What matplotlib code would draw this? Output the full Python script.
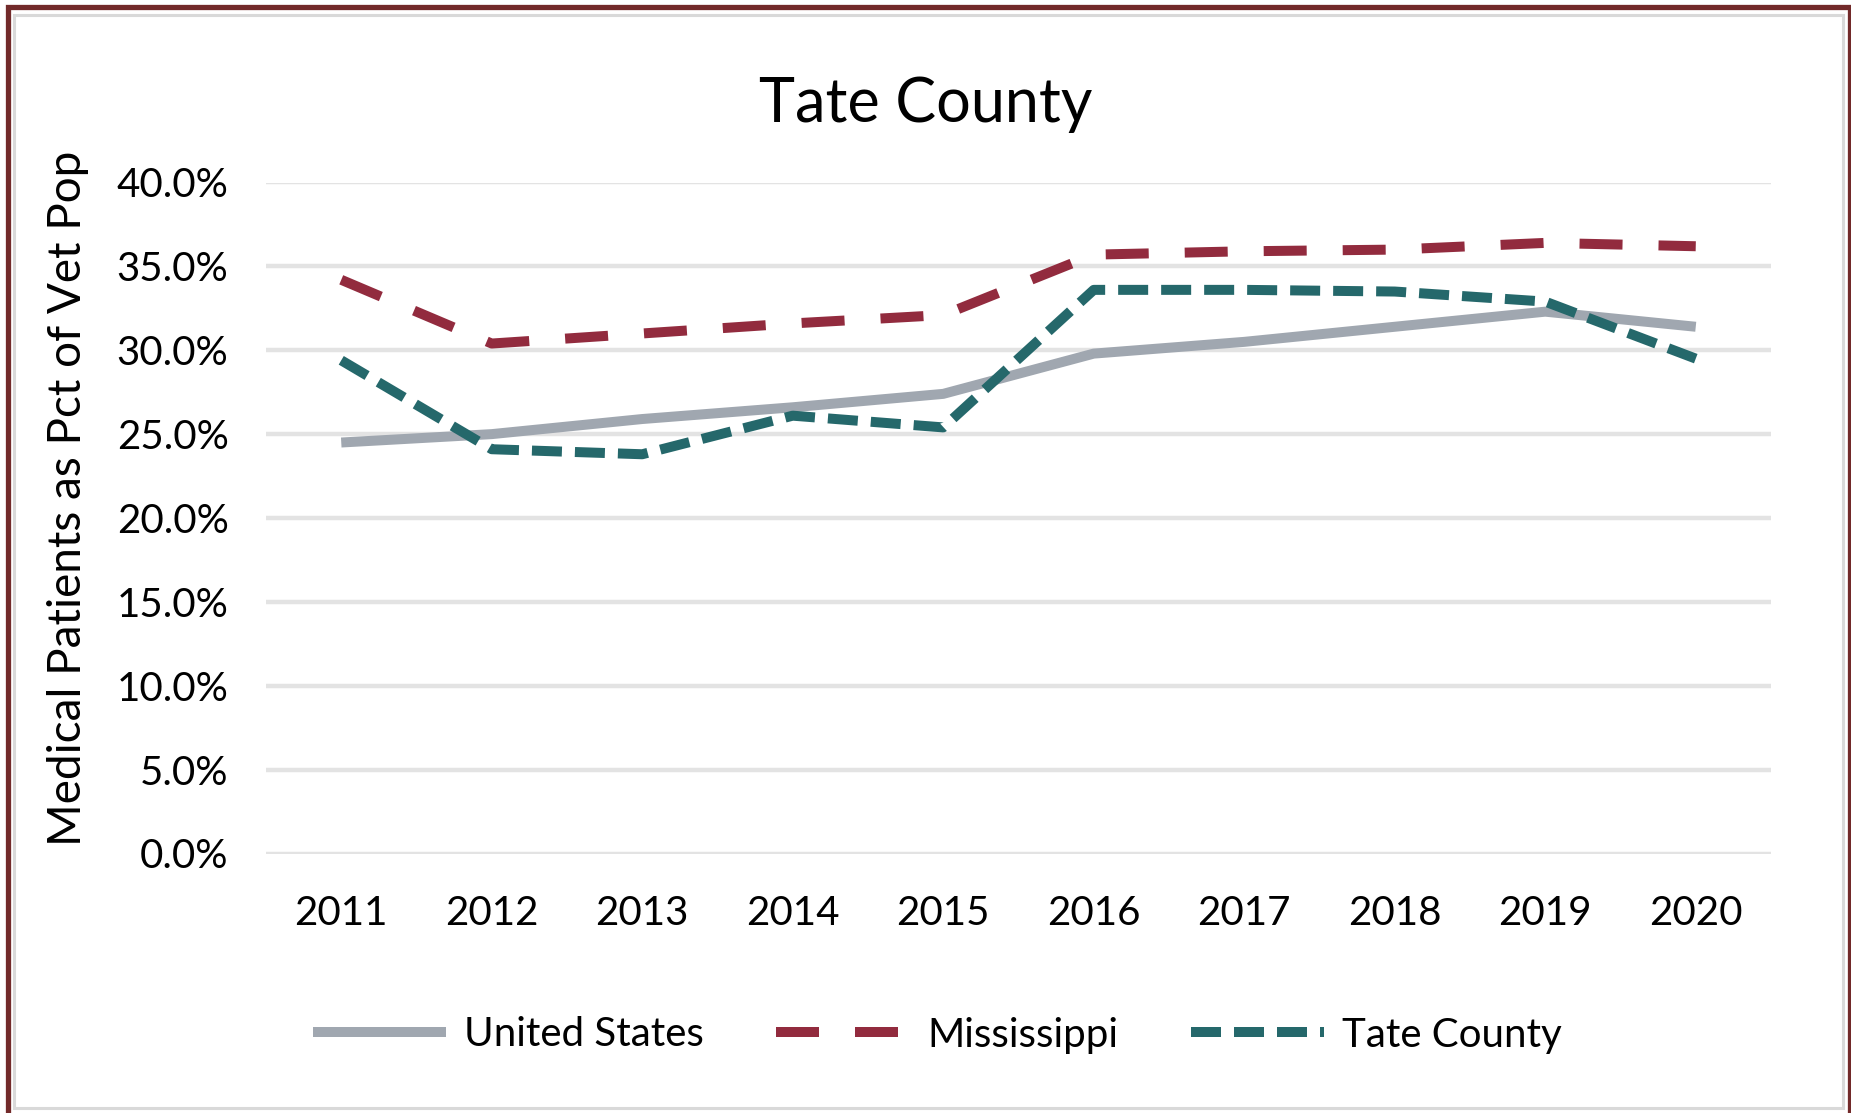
import matplotlib.pyplot as plt
from matplotlib.patches import Rectangle
from matplotlib.ticker import FuncFormatter

plt.rcParams['font.family'] = ['Lato', 'DejaVu Sans']

years = ['2011', '2012', '2013', '2014', '2015', '2016', '2017', '2018', '2019', '2020']
us = [24.5, 25.0, 25.9, 26.6, 27.4, 29.8, 30.5, 31.4, 32.3, 31.4]
ms = [34.2, 30.4, 31.0, 31.6, 32.1, 35.7, 35.9, 36.0, 36.4, 36.2]
tate = [29.4, 24.1, 23.8, 26.1, 25.4, 33.6, 33.6, 33.5, 32.9, 29.5]

W, H = 1851, 1113
fig = plt.figure(figsize=(W / 100, H / 100), dpi=100)
ax = fig.add_axes([266 / W, 1 - 853.5 / H, 1505 / W, 671 / H])

x = range(len(years))
ax.plot(x, us, color='#A0A7B0', lw=7.2, solid_capstyle='butt', label='United States')
ax.plot(x, ms, color='#922B3E', lw=7.2, dashes=(4.3, 3.6), dash_capstyle='butt', label='Mississippi')
ax.plot(x, tate, color='#25686B', lw=7.2, dashes=(3.0, 1.3), dash_capstyle='butt', label='Tate County')

ax.set_xlim(-0.5, len(years) - 0.5)
ax.set_ylim(0, 40)
ax.set_yticks(range(0, 41, 5))
ax.yaxis.set_major_formatter(FuncFormatter(lambda v, p: f'{v:.1f}%'))
ax.set_xticks(list(x))
ax.set_xticklabels(years)
ax.grid(axis='y', color='#E3E3E3', lw=3.2)
ax.set_axisbelow(True)
for s in ax.spines.values():
    s.set_visible(False)
ax.tick_params(length=0, labelsize=29, colors='black')
ax.tick_params(axis='y', pad=27)
ax.tick_params(axis='x', pad=30)

fig.text(0.5, 1 - 121.6 / H, 'Tate County', ha='center', va='baseline', fontsize=44)
fig.text(68 / W, 1 - 498 / H, 'Medical Patients as Pct of Vet Pop', rotation=90,
         ha='center', va='center', fontsize=33)

fig.legend(loc='center', bbox_to_anchor=(937 / W, 1 - 1035 / H), ncol=3, frameon=False,
           fontsize=29, handlelength=3.3, handletextpad=0.45, columnspacing=1.8)

# outer frame (dark red) and inner gray border
fig.add_artist(Rectangle((7.5 / W, -6 / H), 1842 / W, (H - 6.5 + 6) / H, transform=fig.transFigure,
                         fill=False, edgecolor='#722A2A', lw=3.8))
fig.add_artist(Rectangle((13.5 / W, 1 - 1108 / H), 1829.5 / W, (1108 - 14.5) / H, transform=fig.transFigure,
                         fill=False, edgecolor='#D9D9D9', lw=2.2))

fig.savefig('out.png', dpi=100)
